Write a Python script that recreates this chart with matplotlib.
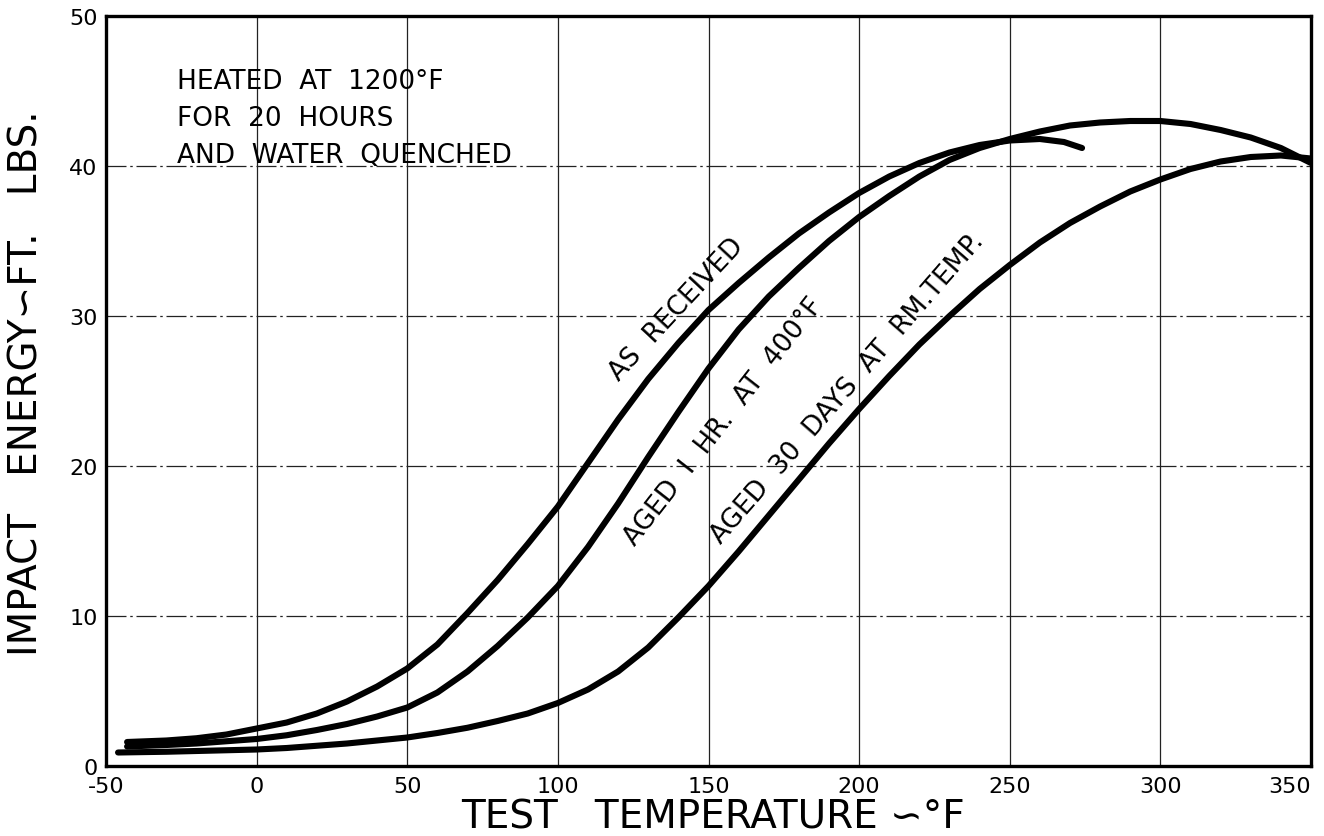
"""
Impact energy vs test temperature — steel heated at 1200 F, water quenched.
"""
import numpy as np
import matplotlib as mpl, matplotlib.pyplot as plt

mpl.rcParams.update({"font.family": "DejaVu Sans", "axes.linewidth": 2.4})

# ====== Data ======
as_rec_x = [-43, -30, -20, -10, 0, 10, 20, 30, 40, 50, 60, 70, 80, 90, 100, 110, 120, 130,
            140, 150, 160, 170, 180, 190, 200, 210, 220, 230, 240, 250, 260, 268, 274]
as_rec_y = [1.6, 1.7, 1.85, 2.1, 2.5, 2.9, 3.5, 4.3, 5.3, 6.5, 8.1, 10.2, 12.4, 14.8, 17.3,
            20.2, 23.1, 25.8, 28.2, 30.4, 32.2, 33.9, 35.5, 36.9, 38.2, 39.3, 40.2, 40.9,
            41.4, 41.7, 41.8, 41.6, 41.2]

aged1_x = [-43, -30, -20, -10, 0, 10, 20, 30, 40, 50, 60, 70, 80, 90, 100, 110, 120, 130,
           140, 150, 160, 170, 180, 190, 200, 210, 220, 230, 240, 250, 260, 270, 280, 290,
           300, 310, 320, 330, 340, 350]
aged1_y = [1.3, 1.4, 1.5, 1.65, 1.8, 2.05, 2.4, 2.8, 3.3, 3.9, 4.9, 6.3, 8.0, 9.9, 12.0,
           14.6, 17.5, 20.6, 23.6, 26.5, 29.1, 31.3, 33.2, 35.0, 36.6, 38.0, 39.3, 40.4,
           41.2, 41.8, 42.3, 42.7, 42.9, 43.0, 43.0, 42.8, 42.4, 41.9, 41.2, 40.2]

aged30_x = [-46, -30, -10, 0, 10, 20, 30, 40, 50, 60, 70, 80, 90, 100, 110, 120, 130, 140,
            150, 160, 170, 180, 190, 200, 210, 220, 230, 240, 250, 260, 270, 280, 290, 300,
            310, 320, 330, 340, 350]
aged30_y = [0.9, 0.95, 1.05, 1.1, 1.2, 1.35, 1.5, 1.7, 1.9, 2.2, 2.55, 3.0, 3.5, 4.2, 5.1,
            6.3, 7.9, 9.9, 12.0, 14.3, 16.7, 19.1, 21.5, 23.8, 26.0, 28.1, 30.0, 31.8, 33.4,
            34.9, 36.2, 37.3, 38.3, 39.1, 39.8, 40.3, 40.6, 40.7, 40.5]

x_ticks = [-50, 0, 50, 100, 150, 200, 250, 300, 350]
y_ticks = [0, 10, 20, 30, 40, 50]

# ====== Figure ======
fig = plt.figure(figsize=(13.24, 8.37), dpi=100)
ax = fig.add_axes([106 / 1324, 1 - 767 / 837, 1205 / 1324, 750 / 837])

# grid: solid verticals, broken horizontals like the drafted original
for xv in x_ticks[1:-1]:
    ax.axvline(xv, color="#222222", lw=0.9, zorder=1)
for yv in y_ticks[1:-1]:
    ax.axhline(yv, color="#222222", lw=0.9, ls=(0, (16, 3, 2, 3)), zorder=1)

for xs, ys in [(as_rec_x, as_rec_y), (aged1_x, aged1_y), (aged30_x, aged30_y)]:
    ax.plot(xs, ys, color="black", lw=4.4, solid_capstyle="round",
            solid_joinstyle="round", zorder=3)

ax.set_xlim(-50, 350)
ax.set_ylim(0, 50)
ax.set_xticks(x_ticks)
ax.set_yticks(y_ticks)
ax.tick_params(length=0, labelsize=16)
ax.tick_params(axis="x", pad=7)
ax.tick_params(axis="y", pad=6)
ax.set_xticklabels([str(v) for v in x_ticks])
ax.get_xticklabels()[-1].set_horizontalalignment("right")

ax.set_xlabel("TEST   TEMPERATURE \u223d\u00b0F", fontsize=28)
ax.xaxis.set_label_coords(0.504, -0.042)
ax.set_ylabel("IMPACT   ENERGY\u223dFT.   LBS.", fontsize=28)
ax.yaxis.set_label_coords(-0.050, 0.512)

# note text
ax.text(-26.5, 46.5, "HEATED  AT  1200\u00b0F\nFOR  20  HOURS\nAND  WATER  QUENCHED",
        fontsize=19, va="top", ha="left", linespacing=1.55)

# curve labels
lab = dict(fontsize=19, ha="center", va="center", rotation_mode="anchor", zorder=4)
ax.text(139.5, 30.5, "AS  RECEIVED", rotation=47, **lab)
ax.text(155, 23.0, "AGED  I  HR.  AT  400\u00b0F", rotation=52, **lab)
ax.text(196, 25.2, "AGED  30  DAYS  AT  RM.TEMP.", rotation=49, **lab)

fig.savefig("out.png", dpi=100)
plt.close()
